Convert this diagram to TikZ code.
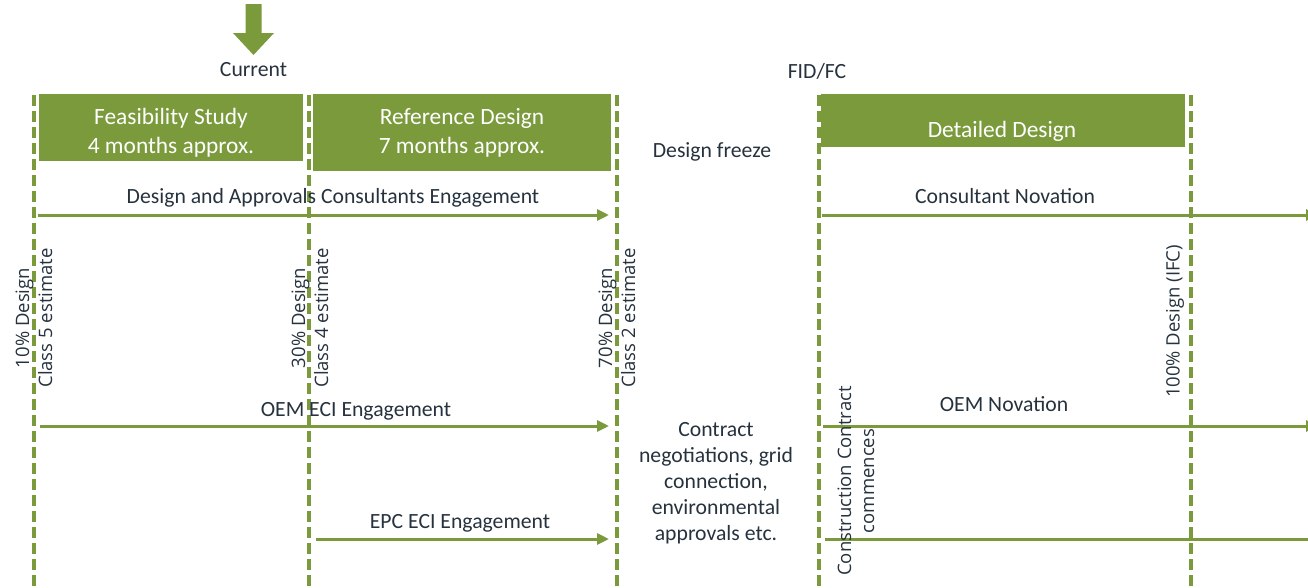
\documentclass[tikz,border=0pt]{standalone}
\usepackage{fontspec}
\setmainfont{Carlito}
\newfontfamily\rotfont{Open Sans}
\usetikzlibrary{arrows.meta}
\definecolor{grn}{RGB}{122,154,60}
\definecolor{txt}{RGB}{38,50,62}
\begin{document}
\begin{tikzpicture}[x=1pt,y=-1pt,
  lbl/.style={text=txt,font=\fontsize{21.7}{26}\selectfont,inner sep=0pt,align=center},
  phasebox/.style={fill=grn,draw=none,inner sep=0pt},
  phasetext/.style={text=white,font=\fontsize{23.4}{29}\selectfont,inner sep=0pt,align=center},
  rotlbl/.style={text=txt,font=\rotfont\fontsize{18.5}{23}\selectfont,inner sep=0pt,align=center,rotate=90},
  gate/.style={draw=grn,line width=3.4pt,dash pattern=on 11pt off 5pt},
  flow/.style={draw=grn,line width=3pt,-{Triangle[length=12pt,width=11pt]}},
  flowend/.style={draw=grn,line width=3pt}]
\useasboundingbox (0,0) rectangle (1308,587);
\clip (0,0) rectangle (1308,587);

% current marker arrow
\fill[grn] (245.5,4) -- (261.5,4) -- (261.5,33) -- (274,33) -- (253.5,55) -- (233,33) -- (245.5,33) -- cycle;
\node[lbl] (cur) at (253.5,70) {Current};
\node[lbl] (fid) at (817,71) {FID/FC};

% gate lines
\foreach \n/\x in {g1/34,g2/309,g3/617,g4/819,g5/1191}{
  \coordinate (\n t) at (\x,95);
  \coordinate (\n b) at (\x,590);
}
\foreach \n in {g1,g2,g3,g4,g5}{ \draw[gate] (\n t) -- (\n b); }

% phase boxes
\node[phasebox,minimum width=264pt,minimum height=67pt] (fsbox) at (171,127.5) {};
\node[phasetext] (fstext) at (171,132.5) {Feasibility Study\\4 months approx.};
\node[phasebox,minimum width=298pt,minimum height=77pt] (rdbox) at (462,132.5) {};
\node[phasetext] (rdtext) at (462,132.5) {Reference Design\\7 months approx.};
\node[phasebox,minimum width=364pt,minimum height=53pt] (ddbox) at (1002.5,120.5) {};
\node[phasetext] (ddtext) at (1002,131) {Detailed Design};

\node[lbl] (freeze) at (712,152) {Design freeze};

% engagement arrows
\node[lbl] (dac) at (333,198) {Design and Approvals Consultants Engagement};
\coordinate (a1s) at (38,215); \coordinate (a1e) at (609,215);
\draw[flow] (a1s) -- (a1e);
\node[lbl] (cn) at (1005,196) {Consultant Novation};
\coordinate (b1s) at (822,215); \coordinate (b1e) at (1318,215);
\draw[flow] (b1s) -- (b1e);

\node[lbl] (oem) at (356,411) {OEM ECI Engagement};
\coordinate (a2s) at (40,426); \coordinate (a2e) at (609,426);
\draw[flow] (a2s) -- (a2e);
\node[lbl] (oemn) at (1004,404) {OEM Novation};
\coordinate (b2s) at (823,426); \coordinate (b2e) at (1318,426);
\draw[flow] (b2s) -- (b2e);

\node[lbl] (epc) at (460,523) {EPC ECI Engagement};
\coordinate (a3s) at (316,539); \coordinate (a3e) at (609,539);
\draw[flow] (a3s) -- (a3e);
\coordinate (b3s) at (825,539); \coordinate (b3e) at (1310,539);
\draw[flowend] (b3s) -- (b3e);

\node[lbl] (contract) at (716,483.5) {Contract\\negotiations, grid\\connection,\\environmental\\approvals etc.};

% milestone labels
\node[rotlbl] (m10) at (34,318) {10\% Design\\Class 5 estimate};
\node[rotlbl] (m30) at (310,318) {30\% Design\\Class 4 estimate};
\node[rotlbl] (m70) at (617,318) {70\% Design\\Class 2 estimate};
\node[rotlbl] (m100) at (1175,321.5) {100\% Design (IFC)};
\node[rotlbl] (mcc) at (856,481) {Construction Contract\\commences};
\end{tikzpicture}
\end{document}
